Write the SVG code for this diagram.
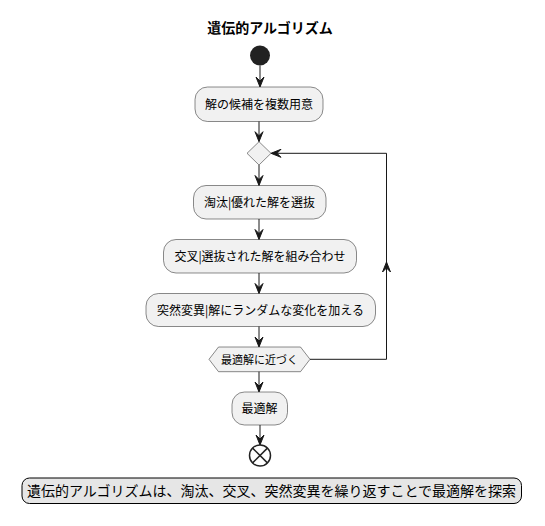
<svg xmlns="http://www.w3.org/2000/svg" width="545" height="526" viewBox="0 0 545 526">
<style>
.box{fill:#F1F1F1;stroke:#181818;stroke-width:0.5}
.t{font-family:"Noto Sans CJK JP","Noto Sans",sans-serif;font-size:12px;fill:#000;text-anchor:middle}
.line{fill:none;stroke:#181818;stroke-width:1}
.head{fill:#181818;stroke:#181818;stroke-width:1}
</style>
<rect width="545" height="526" fill="#FFFFFF"/>
<g id="title"><text x="270" y="33" class="t" style="font-size:14px;font-weight:bold">遺伝的アルゴリズム</text></g>
<g id="start"><circle cx="260" cy="55.5" r="10" fill="#222222"/></g>
<g id="a1"><rect class="box" x="195" y="87" width="128" height="34.5" rx="12.5"/><text class="t" x="259" y="108.5">解の候補を複数用意</text></g>
<g id="merge"><polygon class="box" points="259,141.7 271,153.3 259,165 247,153.3"/></g>
<g id="a2"><rect class="box" x="193.5" y="185.5" width="132.5" height="33.5" rx="12.5"/><text class="t" x="259.5" y="206.5">淘汰|優れた解を選抜</text></g>
<g id="a3"><rect class="box" x="163.5" y="239.5" width="193" height="33.5" rx="12.5"/><text class="t" x="260" y="260.5">交叉|選抜された解を組み合わせ</text></g>
<g id="a4"><rect class="box" x="146" y="293.5" width="229.5" height="33" rx="12.5"/><text class="t" x="260.5" y="314.5">突然変異|解にランダムな変化を加える</text></g>
<g id="check"><polygon class="box" points="209,359.3 218.5,347 300.5,347 310,359.3 300.5,371.7 218.5,371.7"/><text class="t" x="259.5" y="363.5" style="font-size:11px">最適解に近づく</text></g>
<g id="a5"><rect class="box" x="232" y="392" width="55.5" height="33" rx="12.5"/><text class="t" x="259.5" y="413">最適解</text></g>
<g id="end"><circle cx="260" cy="455.5" r="10.5" fill="#FFFFFF" stroke="#222222" stroke-width="1.5"/><line x1="252.6" y1="448.1" x2="267.4" y2="462.9" stroke="#222222" stroke-width="1.5"/><line x1="267.4" y1="448.1" x2="252.6" y2="462.9" stroke="#222222" stroke-width="1.5"/></g>
<g id="legend"><rect x="22" y="478" width="499.5" height="25.5" rx="7.5" fill="#E6E6E6" stroke="#000000" stroke-width="1"/><text class="t" x="271.5" y="496" style="font-size:14px">遺伝的アルゴリズムは、淘汰、交叉、突然変異を繰り返すことで最適解を探索</text></g>
<g id="connectors">
<line class="line" x1="260" y1="65.5" x2="260" y2="86"/><polygon class="head" points="256,77 260,87 264,77 260,81"/>
<line class="line" x1="259" y1="121.5" x2="259" y2="141"/><polygon class="head" points="255,131.7 259,141.7 263,131.7 259,135.7"/>
<line class="line" x1="259" y1="165" x2="259" y2="184.5"/><polygon class="head" points="255,175.5 259,185.5 263,175.5 259,179.5"/>
<line class="line" x1="259" y1="219" x2="259" y2="238.5"/><polygon class="head" points="255,229.5 259,239.5 263,229.5 259,233.5"/>
<line class="line" x1="259" y1="273" x2="259" y2="292.5"/><polygon class="head" points="255,283.5 259,293.5 263,283.5 259,287.5"/>
<line class="line" x1="259" y1="326.5" x2="259" y2="346"/><polygon class="head" points="255,337 259,347 263,337 259,341"/>
<line class="line" x1="259" y1="371.7" x2="259" y2="391"/><polygon class="head" points="255,382 259,392 263,382 259,386"/>
<line class="line" x1="260" y1="425" x2="260" y2="444"/><polygon class="head" points="256,435 260,445 264,435 260,439"/>
<polyline class="line" points="310,359.3 386.5,359.3 386.5,153.3 272,153.3"/>
<polygon class="head" points="382.5,272 386.5,262 390.5,272 386.5,268"/>
<polygon class="head" points="281,149.3 271,153.3 281,157.3 277,153.3"/>
</g>
</svg>
